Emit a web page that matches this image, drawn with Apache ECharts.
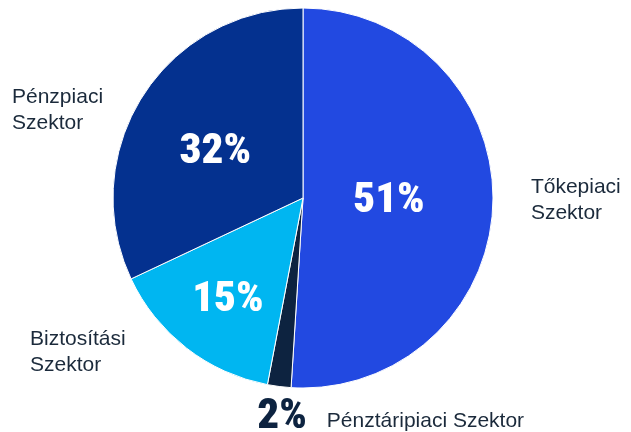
<!DOCTYPE html>
<html lang="hu">
<head>
  <meta charset="UTF-8">
  <title>Szektorok</title>
  <style>
    html, body { margin: 0; padding: 0; background: #fff; }
    #main { width: 631px; height: 432px; }
  </style>
</head>
<body>
<div id="main"></div>
<script src="https://cdn.jsdelivr.net/npm/echarts@6/dist/echarts.min.js"></script>
<script>
  // adatok
  const sectors = ['Tőkepiaci\nSzektor', 'Pénztáripiaci Szektor', 'Biztosítási\nSzektor', 'Pénzpiaci\nSzektor'];
  const shares = [51, 2, 15, 32];
  const colors = ['#2249e1', '#0d2340', '#00b6f1', '#04318f'];

  // keskeny számfont: a Roboto változó font szélesség-tengelye
  const numFont = 'Roboto, sans-serif';
  const numWeight = '900 condensed';
  const textFont = "'Liberation Sans', Arial, sans-serif";
  const textColor = '#1b2a3b';

  let chart = echarts.init(document.getElementById('main'));

  let option = {
    animation: false,
    series: [{
      // szeletek + nevek kívül
      type: 'pie',
      center: [303, 198],
      radius: 190,
      avoidLabelOverlap: false,
      itemStyle: { borderColor: '#fff', borderWidth: 1 },
      label: {
        show: true,
        position: 'outside',
        color: textColor,
        fontFamily: textFont,
        fontSize: 21,
        lineHeight: 26,
        formatter: p => p.dataIndex === 1 ? '' : p.name
      },
      labelLine: { show: false, length: 15, length2: 15 },
      labelLayout: p => {
        if (p.dataIndex === 0) return { dx: 3, dy: -4 };
        if (p.dataIndex === 2) return { align: 'left', dx: 30 - p.labelRect.x - p.labelRect.width, dy: -8 };
        if (p.dataIndex === 3) return { align: 'left', dx: 12 - p.labelRect.x - p.labelRect.width, dy: 22 };
      },
      data: sectors.map((s, i) => ({ name: s, value: shares[i], itemStyle: { color: colors[i] } }))
    }, {
      // százalékok belül (a 2% kívül, névvel együtt)
      type: 'pie',
      center: [303, 198],
      radius: 190,
      silent: true,
      itemStyle: { color: 'transparent' },
      label: {
        show: true,
        position: 'inside',
        color: '#fff',
        fontFamily: numFont,
        fontWeight: numWeight,
        fontSize: 43,
        formatter: p => p.dataIndex === 1
          ? '{p|' + p.value + '%} {n|' + p.name + '}'
          : p.value + '%',
        rich: {
          p: { fontFamily: numFont, fontWeight: numWeight, fontSize: 43, color: '#0d2340' },
          n: { fontFamily: textFont, fontWeight: 'normal', fontSize: 21, color: textColor, verticalAlign: 'bottom', padding: [0, 0, 7, 10] }
        }
      },
      labelLine: { show: false },
      labelLayout: p => {
        if (p.dataIndex === 0) return { dx: -12 };
        if (p.dataIndex === 1) return { dx: 100, dy: 122 };
        if (p.dataIndex === 2) return { dx: -15, dy: 25 };
        if (p.dataIndex === 3) return { dx: -5, dy: 7 };
      },
      data: sectors.map((s, i) => ({ name: s, value: shares[i] }))
    }]
  };
  chart.setOption(option);
</script>
</body>
</html>
